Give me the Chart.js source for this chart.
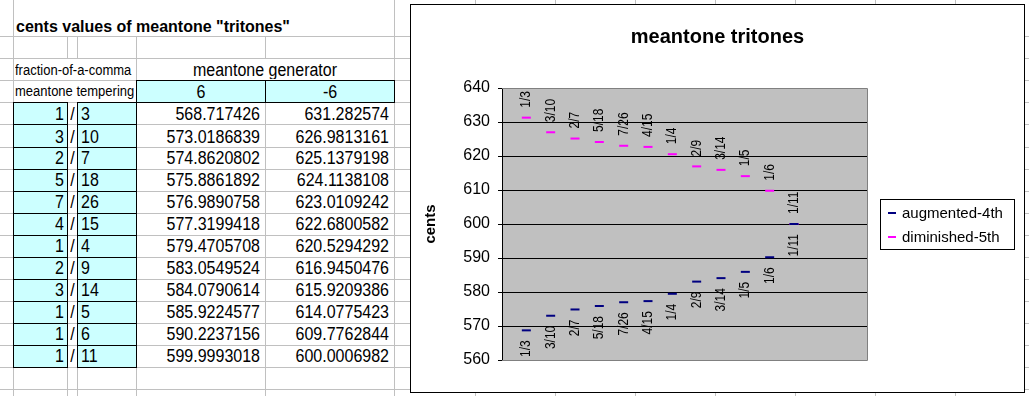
<!DOCTYPE html>
<html lang="en">
<head>
<meta charset="UTF-8">
<title>meantone tritones</title>
<script src="https://cdn.jsdelivr.net/npm/chart.js"></script>
<style>
  body { margin: 0; width: 1029px; height: 396px; overflow: hidden; background: #fff; position: relative;
         font-family: "Liberation Sans", Arial, sans-serif; color: #000; }
  .gl { position: absolute; background: #c0c0c0; }
  .cell { position: absolute; box-sizing: border-box; white-space: nowrap; }
  .tall { transform: scaleY(1.1); }
  .box { position: absolute; box-sizing: border-box; border: 1px solid #000; background: #ccffff; }
  #chartBox { position: absolute; left: 410px; top: 4px; width: 615px; height: 389px;
              box-sizing: border-box; border: 1px solid #000; background: #fff; }
  #chartBox canvas { display: block; }
</style>
</head>
<body>
<div id="sheet"></div>
<div id="chartBox"><canvas id="myChart" width="613" height="387"></canvas></div>

<script>
// data read from the sheet
const fractions = ['1/3', '3/10', '2/7', '5/18', '7/26', '4/15', '1/4', '2/9', '3/14', '1/5', '1/6', '1/11'];
const generators = [6, -6];
const augmented4th = [568.717426, 573.0186839, 574.8620802, 575.8861892, 576.9890758, 577.3199418,
                      579.4705708, 583.0549524, 584.0790614, 585.9224577, 590.2237156, 599.9993018];
const diminished5th = [631.282574, 626.9813161, 625.1379198, 624.1138108, 623.0109242, 622.6800582,
                       620.5294292, 616.9450476, 615.9209386, 614.0775423, 609.7762844, 600.0006982];
const yMin = 560, yMax = 640, yStep = 10;

const FONT = '"Liberation Sans", Arial, sans-serif';

// ---- spreadsheet part ----
const sheet = document.getElementById('sheet');
const rowY = [36, 58, 80, 102, 124, 147, 169, 191, 213, 235, 257, 279, 301, 323, 345, 367, 389];

function add(cls, css, text) {
    const d = document.createElement('div');
    d.className = cls;
    Object.assign(d.style, css);
    if (text !== undefined) d.textContent = text;
    sheet.appendChild(d);
    return d;
}
function vline(x, y1, y2) { add('gl', {left: x + 'px', top: y1 + 'px', width: '1px', height: (y2 - y1) + 'px'}); }
function hline(y) { add('gl', {left: '0px', top: y + 'px', width: '1029px', height: '1px'}); }
function txt(x, y, w, h, text, align, extra, cls) {
    add('cell' + (cls ? ' ' + cls : ''), Object.assign({left: x + 'px', top: y + 'px', width: w + 'px', height: h + 'px',
        lineHeight: h + 'px', textAlign: align, fontSize: '16px'}, extra || {}), text);
}

rowY.forEach(hline);
vline(13, 0, 396);
[67, 77].forEach(x => { vline(x, 36, 58); vline(x, 102, 396); });
vline(136, 36, 396);
vline(265, 36, 58); vline(265, 80, 396);
[394, 475, 555, 635, 715, 795, 875, 955].forEach(x => vline(x, 0, 396));

// header
txt(16, 16, 380, 22, 'cents values of meantone "tritones"', 'left', {fontWeight: 'bold'});
txt(15, 60, 150, 22, 'fraction-of-a-comma', 'left', {fontSize: '13px'}, 'tall');
txt(15, 81, 150, 22, 'meantone tempering', 'left', {fontSize: '13px'}, 'tall');
txt(136, 59, 258, 22, 'meantone generator', 'center', null, 'tall');
add('box', {left: '136px', top: '80px', width: '130px', height: '23px'});
add('box', {left: '265px', top: '80px', width: '130px', height: '23px'});
txt(136, 81, 130, 22, String(generators[0]), 'center', null, 'tall');
txt(265, 81, 130, 22, String(generators[1]), 'center', null, 'tall');

// rows
fractions.forEach((f, i) => {
    const t = rowY[3 + i], b = rowY[4 + i], h = b - t;
    const [num, den] = f.split('/');
    add('box', {left: '13px', top: t + 'px', width: '55px', height: (h + 1) + 'px'});
    add('box', {left: '77px', top: t + 'px', width: '60px', height: (h + 1) + 'px'});
    txt(13, t + 1, 51, h, num, 'right', null, 'tall');
    txt(67, t + 1, 11, h, '/', 'center', null, 'tall');
    txt(81, t + 1, 50, h, den, 'left', null, 'tall');
    txt(136, t + 1, 124, h, augmented4th[i].toString(), 'right', null, 'tall');
    txt(265, t + 1, 124, h, diminished5th[i].toString(), 'right', null, 'tall');
});

// ---- chart part ----
const plotFrame = {
    id: 'plotFrame',
    beforeDraw(chart) {
        const a = chart.chartArea, ctx = chart.ctx;
        ctx.save();
        ctx.fillStyle = '#c0c0c0';
        ctx.fillRect(a.left, a.top, a.right - a.left, a.bottom - a.top);
        ctx.restore();
    },
    beforeDatasetsDraw(chart) {
        const a = chart.chartArea, ctx = chart.ctx;
        ctx.save();
        ctx.strokeStyle = '#808080';
        ctx.lineWidth = 1;
        ctx.beginPath();
        ctx.moveTo(a.left, a.top + 0.5); ctx.lineTo(a.right + 0.5, a.top + 0.5);
        ctx.lineTo(a.right + 0.5, a.bottom + 0.5); ctx.lineTo(a.left, a.bottom + 0.5);
        ctx.stroke();
        ctx.restore();
    }
};

// rotated fraction labels: below the 4th markers, above the 5th markers
const pointLabels = {
    id: 'pointLabels',
    afterDatasetsDraw(chart) {
        const ctx = chart.ctx;
        ctx.save();
        ctx.font = '12px ' + FONT;
        ctx.fillStyle = '#000';
        ctx.textBaseline = 'middle';
        chart.data.datasets.forEach((ds, di) => {
            chart.getDatasetMeta(di).data.forEach((pt, i) => {
                ctx.save();
                ctx.translate(pt.x, pt.y + (di === 0 ? 10 : -10));
                ctx.rotate(-Math.PI / 2);
                ctx.scale(1, 1.2);
                ctx.textAlign = di === 0 ? 'right' : 'left';
                ctx.fillText(fractions[i], 0, 0);
                ctx.restore();
            });
        });
        ctx.restore();
    }
};

const titleAndLegend = {
    id: 'titleAndLegend',
    afterDraw(chart) {
        const ctx = chart.ctx;
        ctx.save();
        ctx.fillStyle = '#000';
        ctx.font = 'bold 20px ' + FONT;
        ctx.textAlign = 'center';
        ctx.textBaseline = 'alphabetic';
        ctx.fillText('meantone tritones', chart.width / 2, 38);

        ctx.strokeStyle = '#000';
        ctx.lineWidth = 1;
        ctx.strokeRect(469.5, 194.5, 134, 50);
        ctx.font = '15px ' + FONT;
        ctx.textAlign = 'left';
        ctx.textBaseline = 'middle';
        chart.data.datasets.forEach((ds, i) => {
            const y = 208 + i * 24;
            ctx.strokeStyle = ds.borderColor;
            ctx.lineWidth = 2;
            ctx.beginPath();
            ctx.moveTo(477, y); ctx.lineTo(485, y);
            ctx.stroke();
            ctx.fillText(ds.label, 491, y + 1);
        });
        ctx.restore();
    }
};

const toPoints = arr => arr.map((v, i) => ({x: i + 1, y: v}));

new Chart(document.getElementById('myChart'), {
    type: 'scatter',
    data: {
        datasets: [{
            label: 'augmented-4th',
            data: toPoints(augmented4th),
            borderColor: '#000080',
            backgroundColor: '#000080',
            pointStyle: 'line',
            pointRadius: 4.5,
            pointBorderWidth: 2,
            showLine: false
        }, {
            label: 'diminished-5th',
            data: toPoints(diminished5th),
            borderColor: '#ff00ff',
            backgroundColor: '#ff00ff',
            pointStyle: 'line',
            pointRadius: 4.5,
            pointBorderWidth: 2,
            showLine: false
        }]
    },
    options: {
        responsive: false,
        animation: false,
        devicePixelRatio: 1,
        events: [],
        layout: { padding: { left: 0, top: 83, right: 157, bottom: 32 } },
        plugins: { legend: { display: false }, title: { display: false }, tooltip: { enabled: false } },
        scales: {
            x: { type: 'linear', min: 0, max: fractions.length + 3, display: false },
            y: {
                min: yMin, max: yMax,
                ticks: { stepSize: yStep, color: '#000', padding: 8, font: { family: FONT, size: 16 } },
                grid: {
                    color: c => (c.tick && (c.tick.value === yMin || c.tick.value === yMax)) ? 'rgba(0,0,0,0)' : '#000',
                    tickColor: '#000',
                    tickLength: 4,
                    lineWidth: 1
                },
                border: { color: '#000', width: 1 },
                title: { display: true, text: 'cents', color: '#000',
                         font: { family: FONT, size: 15, weight: 'bold' }, padding: { top: 11, bottom: 0 } },
                afterFit: s => { s.width = 91; }
            }
        }
    },
    plugins: [plotFrame, pointLabels, titleAndLegend]
});
</script>
</body>
</html>
